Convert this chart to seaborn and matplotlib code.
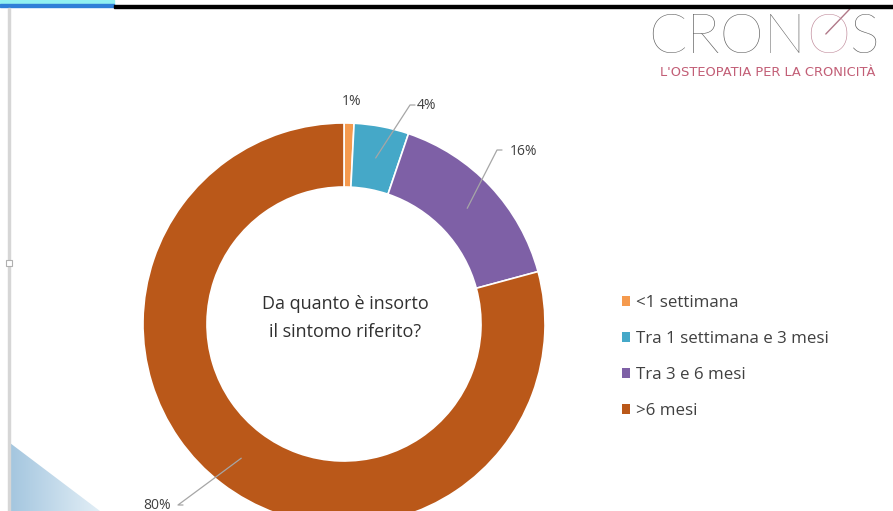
import numpy as np
import matplotlib
matplotlib.use("Agg")
import matplotlib.pyplot as plt
import seaborn as sns
from matplotlib.patches import Rectangle, Polygon

categories = ["<1 settimana", "Tra 1 settimana e 3 mesi", "Tra 3 e 6 mesi", ">6 mesi"]
values = [0.8, 4.4, 15.6, 79.2]
pct_labels = ["1%", "4%", "16%", "80%"]
title_text = "Da quanto è insorto\nil sintomo riferito?"
logo_parts = ["CRON", "O", "S"]
logo_sub = "L'OSTEOPATIA PER LA CRONICITÀ"

sns.set_theme(style="white")
colors = sns.color_palette(["#F59A4E", "#45A8C8", "#7E60A6", "#BA5819"])
plt.rcParams['font.family'] = ['Open Sans', 'DejaVu Sans']

W, H = 893, 511
fig = plt.figure(figsize=(W / 100, H / 100), dpi=100)
fig.patch.set_facecolor("white")
ax = fig.add_axes([0, 0, 1, 1])
ax.set_axis_off()

cx, cy, R = 344, H - 324, 201
wedges, _ = ax.pie(values, colors=colors, startangle=90, counterclock=False,
                   radius=R, center=(cx, cy), frame=True,
                   wedgeprops=dict(width=64, edgecolor="white", linewidth=1.2))
ax.set_xlim(0, W)
ax.set_ylim(0, H)
ax.set_aspect("equal", adjustable="box")
ax.set_axis_off()

# percentage labels with leader lines
label_pos = [(352, 101), (420, 105), (513, 151), (155, 505)]
leader_end = [None, (410, 105), (497, 150), (178, 505)]
for i, w in enumerate(wedges):
    ang = np.deg2rad((w.theta1 + w.theta2) / 2)
    rmid = R - 32
    px, py = cx + rmid * np.cos(ang), cy + rmid * np.sin(ang)
    lx, ly = label_pos[i]
    if leader_end[i] is not None:
        ex, ey = leader_end[i]
        ax.plot([px, ex, ex + 5], [py, H - ey, H - ey], color="#A6A6A6", lw=0.9)
    if i == 0:
        ax.text(lx, H - ly, pct_labels[i], ha="center", va="center", fontsize=10, color="#404040")
    elif i == 3:
        ax.text(171, H - ly, pct_labels[i], ha="right", va="center", fontsize=10, color="#404040")
    else:
        ax.text(lx - 3, H - ly, pct_labels[i], ha="left", va="center", fontsize=10, color="#404040")

# center title
ax.text(cx + 1, H - 318, title_text, ha="center", va="center", fontsize=13,
        color="#303030", linespacing=1.75)

# legend
leg = ax.legend(wedges, categories, loc="center left",
                bbox_to_anchor=(614 / W, 1 - 357 / H), frameon=False,
                fontsize=12.2, labelcolor="#404040", handlelength=0.45,
                handleheight=0.45, handletextpad=0.35, labelspacing=1.18,
                borderpad=0)
for h in leg.legend_handles:
    h.set_edgecolor("none")

# logo
renderer = fig.canvas.get_renderer()
x = 648
logo_colors = ["#5C5C5C", "#C08A9A", "#5C5C5C"]
for part, col in zip(logo_parts, logo_colors):
    t = ax.text(x, H - 53, part, ha="left", va="baseline", fontsize=40.5,
                fontfamily="Lato", fontweight="light", color=col)
    bb = t.get_window_extent(renderer=renderer)
    if part == "O":
        ocx = (bb.x0 + bb.x1) / 2
        ax.plot([ocx - 2, ocx + 22], [H - 34, H - 9], color="#B07888", lw=1.0)
    x = bb.x1
ax.text(768, H - 72, logo_sub, ha="center", va="center",
        fontsize=9.4, fontfamily="DejaVu Sans", color="#C25E76")

# frame decorations
fig.patches.append(Rectangle((0, 1 - 4 / H), 114 / W, 4 / H, transform=fig.transFigure,
                             color="#90F0F2", zorder=5))
fig.patches.append(Rectangle((0, 1 - 7 / H), 114 / W, 3 / H, transform=fig.transFigure,
                             color="#2F7FD8", zorder=5))
fig.patches.append(Rectangle((114 / W, 1 - 8 / H), 1, 3 / H, transform=fig.transFigure,
                             color="#000000", zorder=5))
fig.patches.append(Rectangle((8 / W, 0), 2 / W, 1 - 8 / H, transform=fig.transFigure,
                             color="#D6D6D6", zorder=5))
fig.patches.append(Rectangle((6 / W, 1 - 266 / H), 6 / W, 6 / H, transform=fig.transFigure,
                             facecolor="white", edgecolor="#B0B0B0", lw=0.8, zorder=6))

# gradient triangle bottom-left
tri = Polygon([(10, H - 443), (10, 0), (100, 0)], closed=True, transform=ax.transData,
              facecolor="none", edgecolor="none")
ax.add_patch(tri)
grad = np.linspace(0, 1, 256)[None, :]
img = ax.imshow(grad, extent=(10, 100, 0, H - 443),
                cmap=matplotlib.colors.LinearSegmentedColormap.from_list("g", ["#A4C6DF", "#E2EEF6"]),
                aspect="auto", zorder=0)
img.set_clip_path(tri)
ax.set_xlim(0, W)
ax.set_ylim(0, H)

fig.savefig("out.png", dpi=100, facecolor="white")
